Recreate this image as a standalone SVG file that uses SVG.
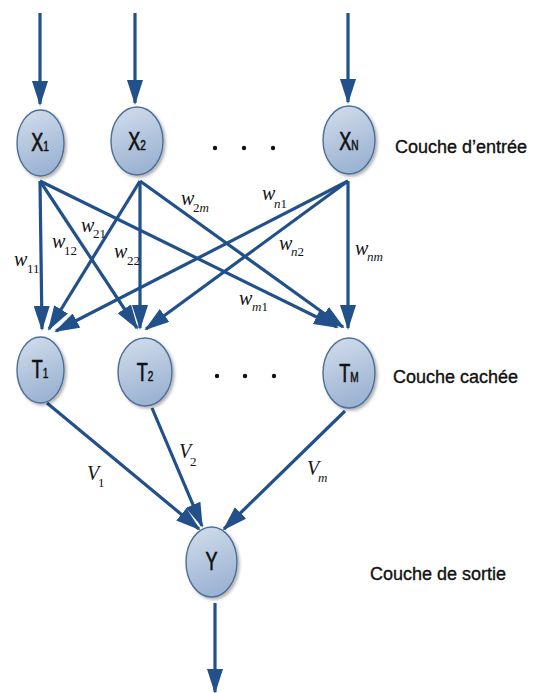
<svg xmlns="http://www.w3.org/2000/svg" width="545" height="693" viewBox="0 0 545 693">
<defs>
  <linearGradient id="nodeFill" x1="0" y1="0" x2="0.3" y2="1">
    <stop offset="0" stop-color="#d3deec"/>
    <stop offset="1" stop-color="#9db4d3"/>
  </linearGradient>
  <filter id="shadow" x="-30%" y="-30%" width="160%" height="160%">
    <feDropShadow dx="2" dy="2" stdDeviation="1.5" flood-color="#000" flood-opacity="0.3"/>
  </filter>
  <marker id="arrow" markerUnits="userSpaceOnUse" viewBox="0 0 25 16" markerWidth="25" markerHeight="16" refX="23" refY="8" orient="auto">
    <path d="M0,0 L25,8 L0,16 z" fill="#21508b"/>
  </marker>
  <style>
    .node ellipse { fill: url(#nodeFill); stroke: #4b6f99; stroke-width: 1.4; filter: url(#shadow); }
    .node text { font-family: "Liberation Sans", Arial, sans-serif; font-size: 25px; fill: #111; stroke: #111; stroke-width: 0.7; text-anchor: middle; }
    .node .sub { font-size: 14px; stroke-width: 0.5; }
    .conn line { stroke: #21508b; stroke-width: 3.2; marker-end: url(#arrow); }
    .lbl { font-family: "Liberation Serif", "Times New Roman", serif; font-style: italic; font-size: 20px; fill: #141414; }
    .lbl .s { font-size: 13px; font-style: normal; }
    .lbl .si { font-size: 13px; font-style: italic; }
    .layer { font-family: "Liberation Sans", Arial, sans-serif; font-size: 18px; fill: #111; stroke: #111; stroke-width: 0.35; }
    .dot { fill: #111; }
  </style>
</defs>
<rect width="545" height="693" fill="#fff"/>

<g id="connectors" class="conn">
  <line x1="40" y1="13" x2="40" y2="104"/>
  <line x1="135" y1="13" x2="135" y2="103"/>
  <line x1="348" y1="13" x2="348" y2="102"/>
  <line x1="40" y1="181" x2="42" y2="329"/>
  <line x1="40" y1="181" x2="137" y2="328"/>
  <line x1="40" y1="181" x2="337" y2="327"/>
  <line x1="140" y1="181" x2="49" y2="329"/>
  <line x1="140" y1="181" x2="140" y2="328"/>
  <line x1="140" y1="181" x2="343" y2="327"/>
  <line x1="348" y1="181" x2="56" y2="331"/>
  <line x1="348" y1="181" x2="146" y2="329"/>
  <line x1="348" y1="181" x2="348" y2="328"/>
  <line x1="47" y1="403" x2="199" y2="529"/>
  <line x1="152" y1="408" x2="202" y2="526"/>
  <line x1="345" y1="411" x2="224" y2="529"/>
  <line x1="215" y1="603" x2="215" y2="692"/>
</g>

<g id="X1" class="node">
  <ellipse cx="40.5" cy="143" rx="23.5" ry="33"/>
  <text transform="translate(40,151) scale(0.72,1)">X<tspan class="sub">1</tspan></text>
</g>
<g id="X2" class="node">
  <ellipse cx="137" cy="141" rx="26" ry="34"/>
  <text transform="translate(137,150) scale(0.72,1)">X<tspan class="sub">2</tspan></text>
</g>
<g id="XN" class="node">
  <ellipse cx="349" cy="140" rx="26" ry="34"/>
  <text transform="translate(349,150) scale(0.72,1)">X<tspan class="sub">N</tspan></text>
</g>
<g id="T1" class="node">
  <ellipse cx="40.5" cy="370" rx="23.5" ry="33"/>
  <text transform="translate(40,378) scale(0.72,1)">T<tspan class="sub">1</tspan></text>
</g>
<g id="T2" class="node">
  <ellipse cx="145" cy="372" rx="27" ry="34"/>
  <text transform="translate(145,381) scale(0.72,1)">T<tspan class="sub">2</tspan></text>
</g>
<g id="TM" class="node">
  <ellipse cx="349" cy="373" rx="26" ry="35"/>
  <text transform="translate(349,382) scale(0.72,1)">T<tspan class="sub">M</tspan></text>
</g>
<g id="Y" class="node">
  <ellipse cx="211.5" cy="562" rx="25.5" ry="35"/>
  <text transform="translate(211.5,570) scale(0.72,1)">Y</text>
</g>

<g id="dots">
  <circle class="dot" cx="215" cy="148" r="2.2"/>
  <circle class="dot" cx="244" cy="148" r="2.2"/>
  <circle class="dot" cx="273" cy="148" r="2.2"/>
  <circle class="dot" cx="217" cy="376" r="2.2"/>
  <circle class="dot" cx="245" cy="376" r="2.2"/>
  <circle class="dot" cx="274" cy="376" r="2.2"/>
</g>

<g id="weights">
  <text class="lbl" x="14" y="266">w<tspan class="s" x="27" y="273">11</tspan></text>
  <text class="lbl" x="52" y="248">w<tspan class="s" x="64" y="255">12</tspan></text>
  <text class="lbl" x="81" y="232">w<tspan class="s" x="93" y="238">21</tspan></text>
  <text class="lbl" x="114" y="258">w<tspan class="s" x="127" y="265">22</tspan></text>
  <text class="lbl" x="181" y="205">w<tspan class="s" x="193" y="212">2</tspan><tspan class="si">m</tspan></text>
  <text class="lbl" x="262" y="200">w<tspan class="si" x="274" y="208">n</tspan><tspan class="s">1</tspan></text>
  <text class="lbl" x="279" y="250">w<tspan class="si" x="291" y="256">n</tspan><tspan class="s">2</tspan></text>
  <text class="lbl" x="355" y="255">w<tspan class="si" x="367" y="261">nm</tspan></text>
  <text class="lbl" x="239" y="305">w<tspan class="si" x="252" y="311">m</tspan><tspan class="s">1</tspan></text>
  <text class="lbl" x="87" y="480">V<tspan class="s" x="98" y="487">1</tspan></text>
  <text class="lbl" x="179" y="458">V<tspan class="s" x="190" y="466">2</tspan></text>
  <text class="lbl" x="307" y="475">V<tspan class="si" x="318" y="482">m</tspan></text>
</g>

<g id="layers">
  <text class="layer" x="395" y="153">Couche d’entrée</text>
  <text class="layer" x="393" y="383">Couche cachée</text>
  <text class="layer" x="370" y="580">Couche de sortie</text>
</g>
</svg>
